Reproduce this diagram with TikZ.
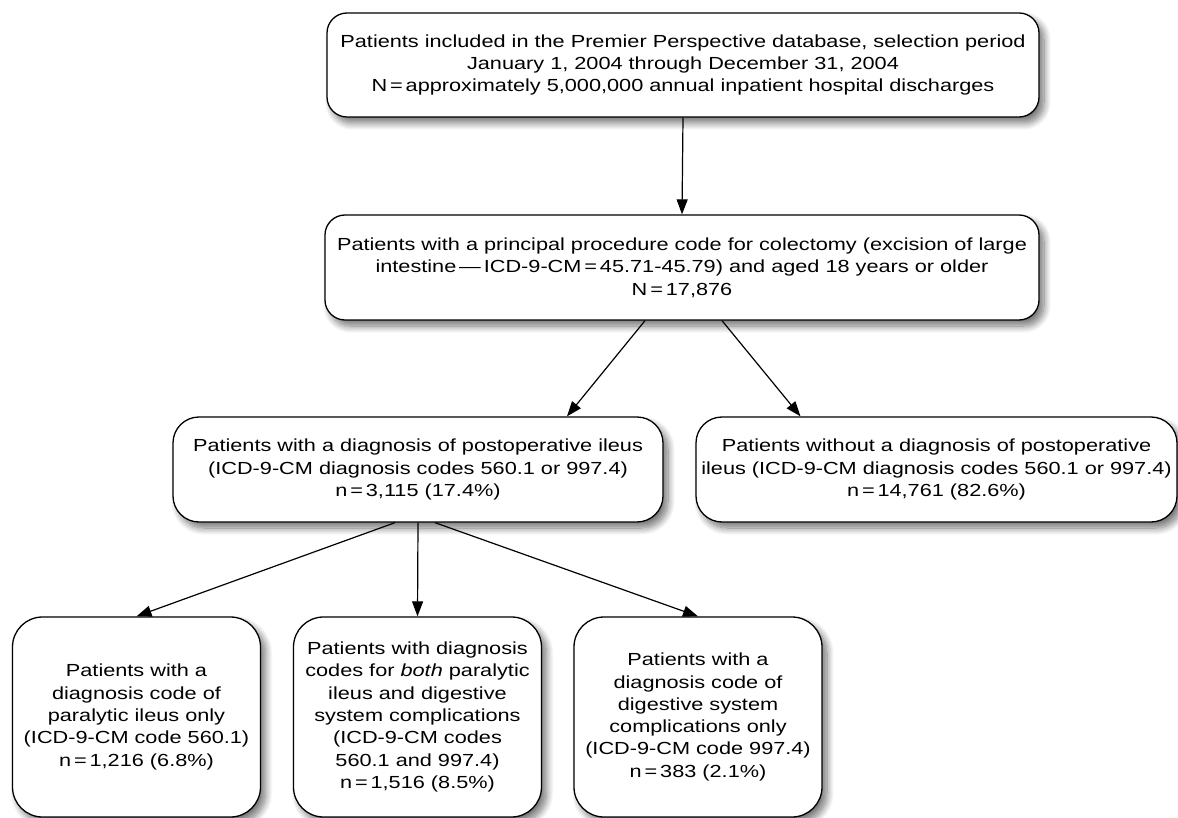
\documentclass[tikz,border=0pt]{standalone}
\usepackage{fontspec}
\setmainfont{Liberation Sans}[FakeStretch=1.24]
\usetikzlibrary{arrows.meta,shadows.blur}
\begin{document}
\begin{tikzpicture}[x=1pt,y=-1pt,
  box/.style={draw=black, line width=1.3pt, fill=white, align=center, inner sep=0pt,
    font=\fontsize{17.5}{22.3}\selectfont,
    blur shadow={shadow xshift=5pt, shadow yshift=-6pt, shadow blur steps=12, shadow blur radius=7pt, shadow opacity=55}},
  topbox/.style={box, rounded corners=20pt},
  midbox/.style={box, rounded corners=26pt},
  botbox/.style={box, rounded corners=30pt, minimum width=248pt, minimum height=200pt},
  arr/.style={line width=1.2pt, -{Triangle[length=15pt,width=11pt]}}
]
\useasboundingbox (0,0) rectangle (1178,818);
\node[topbox, minimum width=712pt, minimum height=104pt] (b1) at (683,65)
  {Patients included in the Premier Perspective database, selection period\\
   January 1, 2004 through December 31, 2004\\
   N\,=\,approximately 5,000,000 annual inpatient hospital discharges};
\node[topbox, minimum width=714pt, minimum height=105pt] (b2) at (682,267.5)
  {Patients with a principal procedure code for colectomy (excision of large\\
   intestine\,—\,ICD-9-CM\,=\,45.71-45.79) and aged 18 years or older\\
   N\,=\,17,876};
\node[midbox, minimum width=490pt, minimum height=105pt] (b3) at (418,469.5)
  {Patients with a diagnosis of postoperative ileus\\
   (ICD-9-CM diagnosis codes 560.1 or 997.4)\\
   n\,=\,3,115 (17.4\%)};
\node[midbox, minimum width=481pt, minimum height=105pt] (b4) at (936.5,469.5)
  {Patients without a diagnosis of postoperative\\
   ileus (ICD-9-CM diagnosis codes 560.1 or 997.4)\\
   n\,=\,14,761 (82.6\%)};
\node[botbox] (b5) at (136.5,717)
  {Patients with a\\ diagnosis code of\\ paralytic ileus only\\ (ICD-9-CM code 560.1)\\ n\,=\,1,216 (6.8\%)};
\node[botbox] (b6) at (417.5,717)
  {Patients with diagnosis\\ codes for \textit{both} paralytic\\ ileus and digestive\\ system complications\\ (ICD-9-CM codes\\ 560.1 and 997.4)\\ n\,=\,1,516 (8.5\%)};
\node[botbox] (b7) at (698,717)
  {Patients with a\\ diagnosis code of\\ digestive system\\ complications only\\ (ICD-9-CM code 997.4)\\ n\,=\,383 (2.1\%)};
\draw[arr] (b1.south) -- (b2.north);
\draw[arr] ([xshift=-37pt]b2.south) -- ([xshift=149pt]b3.north);
\draw[arr] ([xshift=40pt]b2.south) -- ([xshift=-136pt]b4.north);
\draw[arr] ([xshift=-23pt]b3.south) -- (b5.north);
\draw[arr] (b3.south) -- (b6.north);
\draw[arr] ([xshift=17pt]b3.south) -- (b7.north);
\end{tikzpicture}
\end{document}
